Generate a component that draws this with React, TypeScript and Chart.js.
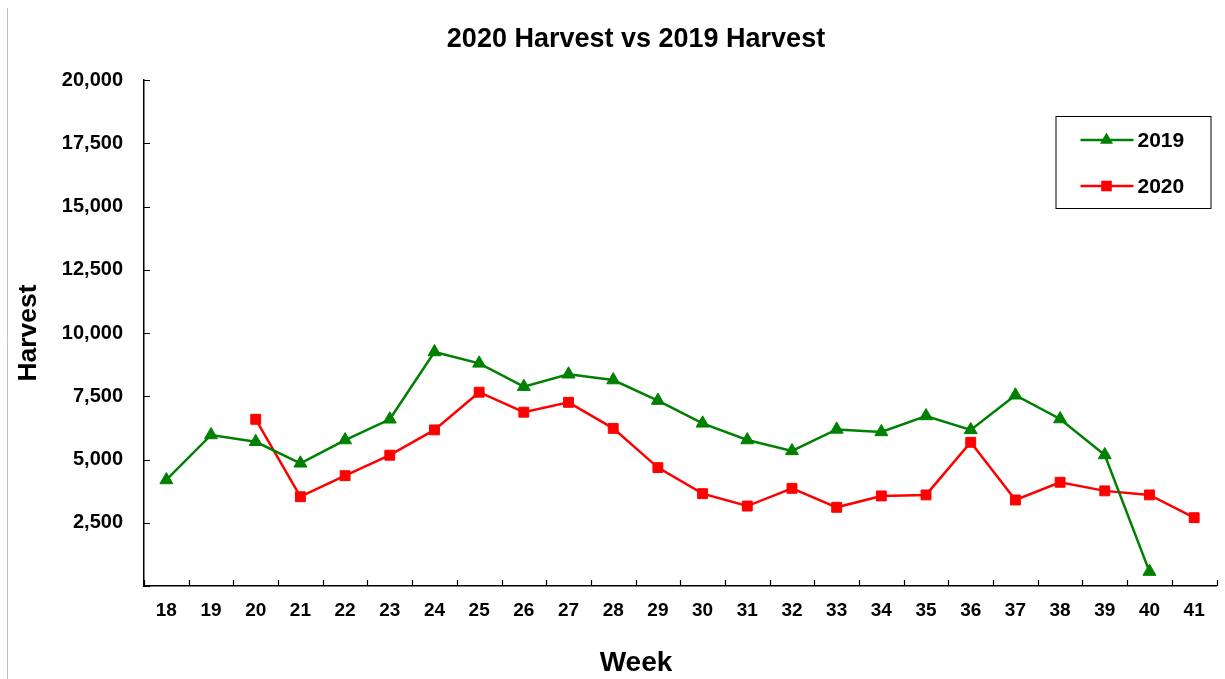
import React, { useEffect, useRef } from "react";
import { Chart, registerables } from "chart.js";

Chart.register(...registerables);

const weeks = ["18","19","20","21","22","23","24","25","26","27","28","29","30","31","32","33","34","35","36","37","38","39","40","41"];
const harvest2019 = [4190, 5970, 5700, 4850, 5770, 6590, 9250, 8800, 7880, 8370, 8140, 7330, 6430, 5770, 5340, 6190, 6090, 6720, 6170, 7540, 6600, 5180, 570, null];
const harvest2020 = [null, null, 6590, 3530, 4360, 5170, 6170, 7660, 6870, 7260, 6230, 4680, 3650, 3160, 3860, 3110, 3560, 3600, 5680, 3400, 4100, 3760, 3600, 2700];
const yTickStep = 2500;
const yMax = 20000;
const titleText = "2020 Harvest vs 2019 Harvest";
const xTitle = "Week";
const yTitle = "Harvest";
const seriesLabels = ["2019", "2020"];

const FONT = '"Liberation Sans", Arial, sans-serif';
const GREEN = "#008000";
const RED = "#ff0000";

function drawMarker(ctx: CanvasRenderingContext2D, style: string, x: number, y: number, r: number, color: string) {
  ctx.save();
  ctx.fillStyle = color;
  ctx.beginPath();
  if (style === "triangle") {
    for (let k = 0; k < 3; k++) {
      const a = -Math.PI / 2 + (k * 2 * Math.PI) / 3;
      const px = x + r * Math.cos(a);
      const py = y + r * Math.sin(a);
      if (k === 0) ctx.moveTo(px, py); else ctx.lineTo(px, py);
    }
    ctx.closePath();
  } else {
    const s = r * Math.SQRT1_2;
    ctx.rect(x - s, y - s, 2 * s, 2 * s);
  }
  ctx.fill();
  ctx.restore();
}

const decorPlugin = {
  id: "decor",
  afterDraw(chart: any) {
    const ctx: CanvasRenderingContext2D = chart.ctx;
    const area = chart.chartArea;
    const xs = chart.scales.x;
    const ys = chart.scales.y;
    ctx.save();
    // left page border line
    ctx.strokeStyle = "#c0c0c0";
    ctx.lineWidth = 1;
    ctx.beginPath();
    ctx.moveTo(7.5, 8);
    ctx.lineTo(7.5, chart.height);
    ctx.stroke();
    // titles
    const cx = 636;
    ctx.fillStyle = "#000";
    ctx.textAlign = "center";
    ctx.textBaseline = "middle";
    ctx.font = `bold 27px ${FONT}`;
    ctx.fillText(titleText, cx, 40);
    ctx.font = `bold 28px ${FONT}`;
    ctx.fillText(xTitle, cx, 663);
    // inner ticks
    ctx.strokeStyle = "#000";
    ctx.lineWidth = 1.2;
    ctx.beginPath();
    ys.ticks.forEach((t: any) => {
      const y = Math.round(ys.getPixelForValue(t.value)) + 0.5;
      ctx.moveTo(area.left, y);
      ctx.lineTo(area.left + 6, y);
    });
    for (let i = 0; i <= weeks.length; i++) {
      const x = Math.round(xs.getPixelForValue(i - 0.5)) + 0.5;
      ctx.moveTo(x, area.bottom);
      ctx.lineTo(x, area.bottom - 6);
    }
    ctx.stroke();
    // legend box
    const bx = area.right - 161;
    const by = area.top + 36;
    const bw = 155;
    const bh = 92;
    ctx.fillStyle = "#fff";
    ctx.fillRect(bx, by, bw, bh);
    ctx.strokeStyle = "#000";
    ctx.lineWidth = 1;
    ctx.strokeRect(bx + 0.5, by + 0.5, bw, bh);
    const rows = [
      { label: seriesLabels[0], color: GREEN, style: "triangle", y: by + 24 },
      { label: seriesLabels[1], color: RED, style: "rect", y: by + 70 },
    ];
    rows.forEach((r) => {
      ctx.strokeStyle = r.color;
      ctx.lineWidth = 2.5;
      ctx.beginPath();
      ctx.moveTo(bx + 25, r.y);
      ctx.lineTo(bx + 78, r.y);
      ctx.stroke();
      drawMarker(ctx, r.style, bx + 51, r.y, 7.5, r.color);
      ctx.fillStyle = "#000";
      ctx.font = `bold 21px ${FONT}`;
      ctx.textBaseline = "middle";
      ctx.textAlign = "left";
      ctx.fillText(r.label, bx + 82, r.y + 1);
    });
    ctx.restore();
  },
};

export default function App() {
  const ref = useRef<HTMLCanvasElement>(null);
  useEffect(() => {
    const canvas = ref.current!;
    const chart = new Chart(canvas, {
      type: "line",
      data: {
        labels: weeks,
        datasets: [
          {
            label: seriesLabels[0],
            data: harvest2019,
            borderColor: GREEN,
            backgroundColor: GREEN,
            borderWidth: 2.5,
            pointStyle: "triangle",
            pointRadius: 7.5,
            pointBorderWidth: 1,
            tension: 0,
          },
          {
            label: seriesLabels[1],
            data: harvest2020,
            borderColor: RED,
            backgroundColor: RED,
            borderWidth: 2.5,
            pointStyle: "rect",
            pointRadius: 7,
            pointBorderWidth: 1,
            tension: 0,
          },
        ],
      },
      options: {
        responsive: false,
        animation: false,
        layout: { padding: { left: 0, right: 7, top: 80, bottom: 0 } },
        plugins: {
          legend: { display: false },
          tooltip: { enabled: false },
          title: { display: false },
        },
        scales: {
          x: {
            offset: true,
            grid: { display: false, drawTicks: false, offset: true },
            border: { display: true, color: "#000", width: 1.5 },
            ticks: {
              color: "#000",
              font: { family: FONT, size: 19, weight: "bold" },
              padding: 13,
              maxRotation: 0,
              autoSkip: false,
            },
            afterFit: (s: any) => { s.height = 93; },
          },
          y: {
            min: 0,
            max: yMax,
            grid: { display: false, drawTicks: false },
            border: { display: true, color: "#000", width: 1.5 },
            ticks: {
              stepSize: yTickStep,
              color: "#000",
              font: { family: FONT, size: 20, weight: "bold" },
              padding: 21,
              callback: (v: any) => (v === 0 ? "" : Number(v).toLocaleString("en-US")),
            },
            title: {
              display: true,
              text: yTitle,
              color: "#000",
              font: { family: FONT, size: 26.5, weight: "bold" },
              padding: { top: 13, bottom: 0 },
            },
            afterFit: (s: any) => { s.width = 144; },
          },
        },
      },
      plugins: [decorPlugin],
    });
    return () => chart.destroy();
  }, []);
  return (
    <div style={{ position: "fixed", left: 0, top: 0, width: 1225, height: 679, background: "#fff" }}>
      <canvas ref={ref} width={1225} height={679} style={{ display: "block" }} />
    </div>
  );
}
